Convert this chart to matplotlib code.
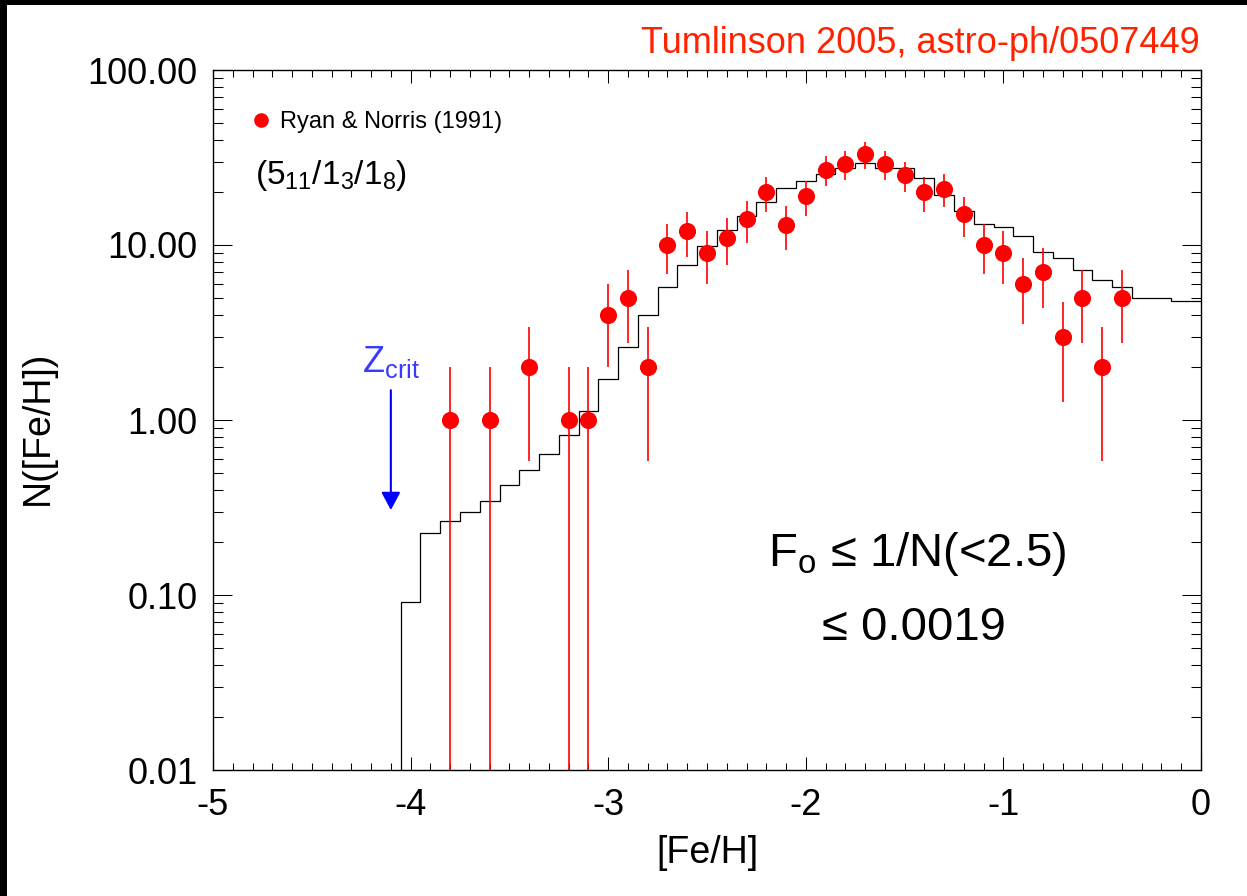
import numpy as np
import matplotlib
matplotlib.use("Agg")
import matplotlib.pyplot as plt
from matplotlib.lines import Line2D
from matplotlib.patches import Rectangle

plt.rcParams["font.family"] = ["Liberation Sans", "DejaVu Sans"]
plt.rcParams["mathtext.fontset"] = "custom"
plt.rcParams["mathtext.rm"] = "Liberation Sans"
plt.rcParams["mathtext.it"] = "Liberation Sans"
plt.rcParams["mathtext.bf"] = "Liberation Sans:bold"
plt.rcParams["axes.unicode_minus"] = False

# Ryan & Norris (1991) halo metallicity distribution (counts per 0.1 dex)
feh_obs = [-3.8, -3.6, -3.4, -3.2, -3.1, -3.0, -2.9, -2.8, -2.7, -2.6, -2.5,
           -2.4, -2.3, -2.2, -2.1, -2.0, -1.9, -1.8, -1.7, -1.6, -1.5, -1.4,
           -1.3, -1.2, -1.1, -1.0, -0.9, -0.8, -0.7, -0.6, -0.5, -0.4]
n_obs = [1, 1, 2, 1, 1, 4, 5, 2, 10, 12, 9, 11, 14, 20, 13, 19, 27, 29, 33,
         29, 25, 20, 21, 15, 10, 9, 6, 7, 3, 5, 2, 5]

# model distribution, bins centred on -4.0 ... 0.0
model_centers = np.round(np.arange(-4.0, 0.001, 0.1), 1)
model_n = [0.091, 0.227, 0.265, 0.299, 0.344, 0.424, 0.52, 0.641, 0.817, 1.12,
           1.71, 2.61, 4.0, 5.75, 7.69, 9.87, 12.2, 14.7, 17.5, 21.1, 23.2,
           25.5, 27.4, 29.3, 27.4, 27.4, 24.3, 19.2, 15.6, 13.2, 12.6, 11.2,
           9.16, 8.4, 7.2, 6.34, 5.78, 5.0, 4.97, 4.79, 4.76]

x_ticks = [-5, -4, -3, -2, -1, 0]
y_ticks = [0.01, 0.1, 1.0, 10.0, 100.0]
z_crit = -4.1

W, H = 1247, 896
fig = plt.figure(figsize=(W / 100, H / 100), dpi=100)
fig.patch.set_facecolor("white")
# dark frame strips along the top and left edges
fig.patches.append(Rectangle((0, 1 - 5 / H), 1, 5 / H, transform=fig.transFigure,
                             facecolor="black", edgecolor="none", zorder=0))
fig.patches.append(Rectangle((0, 0), 7 / W, 1, transform=fig.transFigure,
                             facecolor="black", edgecolor="none", zorder=0))

ax = fig.add_axes([213 / W, 1 - 770 / H, (1201 - 213) / W, (770 - 70) / H])
ax.set_yscale("log")
ax.set_xlim(-5, 0)
ax.set_ylim(0.01, 100)

# model histogram
edges = np.append(model_centers - 0.05, model_centers[-1] + 0.05)
ax.stairs(model_n, edges, baseline=1e-4, color="black", lw=0.9, zorder=2)

# observed counts with Poisson errors
n = np.array(n_obs, dtype=float)
err = np.sqrt(n)
lower = np.minimum(err, n - 1e-4)
ax.errorbar(feh_obs, n, yerr=[lower, err], fmt="o", color="red", ms=11.3,
            mec="red", elinewidth=1.2, capsize=0, zorder=3)

# axes styling
for s in ax.spines.values():
    s.set_linewidth(1.0)
ax.set_xticks(x_ticks)
ax.set_xticklabels([str(v) for v in x_ticks])
ax.set_xticks(np.arange(-5, 0.001, 0.1), minor=True)
ax.set_yticks(y_ticks)
ax.set_yticklabels(["%.2f" % v for v in y_ticks])
ax.yaxis.set_minor_locator(matplotlib.ticker.LogLocator(base=10, subs=np.arange(2, 10)))
ax.yaxis.set_minor_formatter(matplotlib.ticker.NullFormatter())
ax.tick_params(axis="both", which="both", direction="in", top=True, right=True,
               width=0.75, labelsize=26)
ax.tick_params(axis="x", which="major", length=9.5, pad=13)
ax.tick_params(axis="x", which="minor", length=5)
ax.tick_params(axis="y", which="major", length=13.5, pad=11)
ax.tick_params(axis="y", which="minor", length=7)

ax.set_xlabel("[Fe/H]", fontsize=27)
ax.xaxis.set_label_coords(0.5, -0.118)
ax.xaxis.label.set_va("center")
ax.set_ylabel("N([Fe/H])", fontsize=27)
ax.yaxis.set_label_coords(-0.177, 0.489)
ax.yaxis.label.set_va("center")

# legend
handle = Line2D([], [], marker="o", color="red", ls="none", ms=9.5)
ax.legend([handle], ["Ryan & Norris (1991)"], loc="center left",
          bbox_to_anchor=((249 - 213) / 988, (770 - 122) / 700),
          frameon=False, fontsize=17, handlelength=1.0, handletextpad=0.33,
          borderpad=0, borderaxespad=0)

ax.text((255 - 213) / 988, (770 - 184) / 700, r"$(5_{11}/1_{3}/1_{8})$",
        transform=ax.transAxes, fontsize=24, ha="left", va="baseline")

# critical metallicity marker
ax.text((362 - 213) / 988, (770 - 372) / 700, r"$\mathrm{Z}_{\mathrm{crit}}$",
        transform=ax.transAxes, fontsize=26, color="#3a3aff",
        ha="left", va="baseline")
ax.annotate("", xy=(z_crit, 0.306), xytext=(z_crit, 1.48),
            arrowprops=dict(arrowstyle="-|>,head_length=0.54,head_width=0.29",
                            mutation_scale=20, color="#0000ff", lw=1.5,
                            shrinkA=0, shrinkB=0))

ax.text((917 - 213) / 988, (770 - 566) / 700, r"$\mathrm{F}_{\mathrm{o}}$ ≤ 1/N(<2.5)",
        transform=ax.transAxes, fontsize=34, ha="center", va="baseline")
ax.text((822 - 213) / 988, (770 - 640) / 700, "≤ 0.0019",
        transform=ax.transAxes, fontsize=34, ha="left", va="baseline")

fig.text(1200 / W, 1 - 53 / H, "Tumlinson 2005, astro-ph/0507449",
         fontsize=26, color="#ff2200", ha="right", va="baseline")

fig.savefig("out.png", dpi=100, facecolor="white")
